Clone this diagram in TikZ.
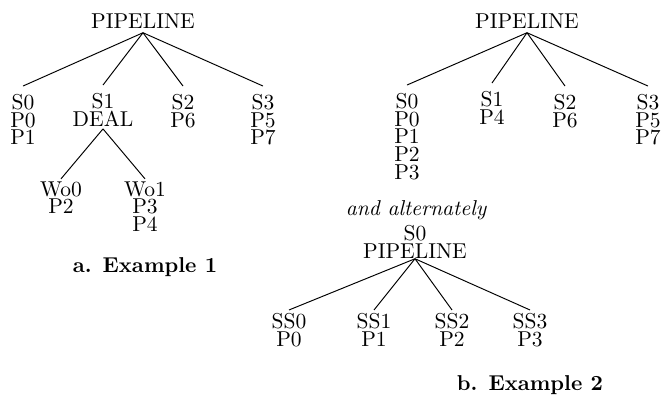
\documentclass[tikz,border=0pt]{standalone}
\usepackage{tikz}

\begin{document}
\begin{tikzpicture}[
    x=0.465pt, y=-0.465pt,
    tnode/.style={align=center, anchor=north, inner sep=0pt, font=\fontsize{10}{8.2}\selectfont},
    caption/.style={anchor=base, inner sep=0pt, font=\bfseries},
    line width=0.45pt, draw=black
]
\useasboundingbox (0,0) rectangle (663,397);

% Example 1
\node[tnode] (pl1) at (143,13) {PIPELINE};
\node[tnode] (s0) at (23,94) {S0\\P0\\P1};
\node[tnode] (s1) at (103,93) {S1\\DEAL};
\node[tnode] (s2) at (183,94) {S2\\P6};
\node[tnode] (s3) at (263,94) {S3\\P5\\P7};
\node[tnode] (w0) at (61,181) {Wo0\\P2};
\node[tnode] (w1) at (145,181) {Wo1\\P3\\P4};
\node[caption] (cap1) at (145,273) {a. Example 1};

\foreach \c in {s0,s1,s2,s3}
    \draw ([yshift=-1.9pt]pl1.south) -- ([yshift=3.7pt]\c.north);
\foreach \c in {w0,w1}
    \draw ([yshift=-1pt]s1.south) -- ([yshift=1pt]\c.north);

% Example 2
\node[tnode] (pl2) at (527,13) {PIPELINE};
\node[tnode] (t0) at (407,93) {S0\\P0\\P1\\P2\\P3};
\node[tnode] (t1) at (492,91) {S1\\P4};
\node[tnode] (t2) at (565,94) {S2\\P6};
\node[tnode] (t3) at (648,94) {S3\\P5\\P7};

\foreach \c in {t0,t1,t2,t3}
    \draw ([yshift=-1.9pt]pl2.south) -- ([yshift=3.7pt]\c.north);

% alternate form
\node[tnode, font=\itshape] (alt) at (416,200) {and alternately};
\node[tnode] (pl3) at (415,225) {S0\\PIPELINE};
\node[tnode] (u0) at (289,313) {SS0\\P0};
\node[tnode] (u1) at (374,313) {SS1\\P1};
\node[tnode] (u2) at (452,313) {SS2\\P2};
\node[tnode] (u3) at (530,313) {SS3\\P3};
\node[caption] (cap2) at (530,391) {b. Example 2};

\foreach \c in {u0,u1,u2,u3}
    \draw (pl3.south) -- ([yshift=1.4pt]\c.north);

\end{tikzpicture}
\end{document}
